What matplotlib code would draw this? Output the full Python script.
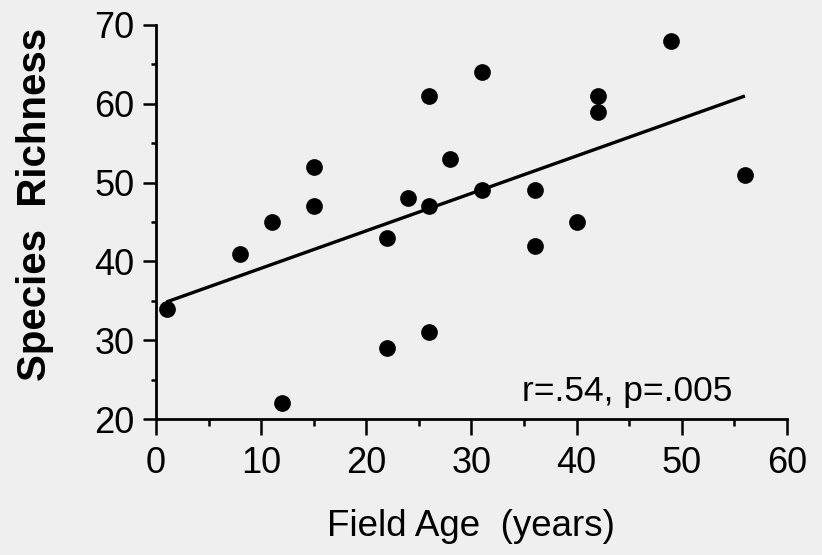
import numpy as np
import matplotlib
matplotlib.use("Agg")
import matplotlib.pyplot as plt
from matplotlib.ticker import MultipleLocator

plt.rcParams['font.family'] = ['Liberation Sans', 'DejaVu Sans']

# field age (years) and species richness for each field
field_age = [1, 8, 11, 12, 15, 15, 22, 22, 24, 26, 26, 26, 28, 31, 31,
             36, 36, 40, 42, 42, 49, 56]
richness = [34, 41, 45, 22, 52, 47, 43, 29, 48, 61, 47, 31, 53, 64, 49,
            49, 42, 45, 61, 59, 68, 51]
stats_label = "r=.54, p=.005"

x = np.array(field_age, dtype=float)
y = np.array(richness, dtype=float)

bg = "#efefef"
fig = plt.figure(figsize=(8.22, 5.55), dpi=100, facecolor=bg)
ax = fig.add_axes([0.1898, 0.245, 0.7676, 0.710])
ax.set_facecolor(bg)

ax.scatter(x, y, s=145, color="black", zorder=3, clip_on=False, linewidths=0)

# least squares line over the sampled age range
slope, intercept = np.polyfit(x, y, 1)
xs = np.array([x.min(), x.max()])
ax.plot(xs, slope * xs + intercept, color="black", lw=2.4, zorder=2,
        solid_capstyle="butt")

ax.text(34.8, 22.35, stats_label, fontsize=25.5, va="baseline", ha="left")

ax.set_xlim(0, 60)
ax.set_ylim(20, 70)
ax.xaxis.set_major_locator(MultipleLocator(10))
ax.xaxis.set_minor_locator(MultipleLocator(5))
ax.yaxis.set_major_locator(MultipleLocator(10))
ax.yaxis.set_minor_locator(MultipleLocator(5))

for side in ("top", "right"):
    ax.spines[side].set_visible(False)
for side in ("left", "bottom"):
    ax.spines[side].set_linewidth(2.0)

ax.tick_params(axis="x", which="major", direction="out", length=11.5,
               width=1.8, labelsize=26, pad=8)
ax.tick_params(axis="x", which="minor", direction="out", length=5, width=1.8)
ax.tick_params(axis="y", which="major", direction="out", length=9.5,
               width=1.8, labelsize=26, pad=6)
ax.tick_params(axis="y", which="minor", direction="out", length=3.8, width=1.8)

fig.text(0.5735, 1 - 527 / 555, "Field Age  (years)", fontsize=26.5,
         ha="center", va="center")
fig.text(35 / 822, 1 - 204 / 555, "Species  Richness", fontsize=29,
         fontweight="bold", rotation=90, ha="center", va="center")

fig.savefig("out.png", dpi=100, facecolor=bg)
